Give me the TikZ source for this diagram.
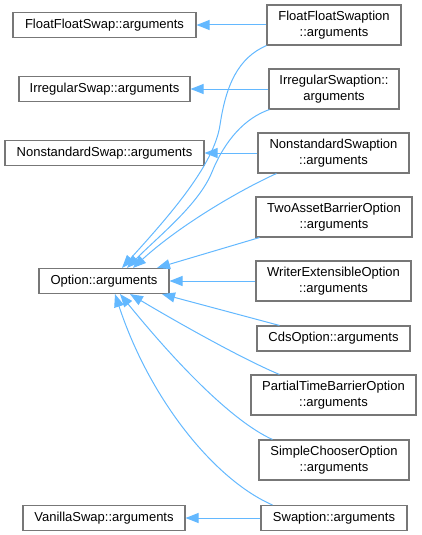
\documentclass[tikz,border=0pt]{standalone}
\usepackage{fontspec}
\setmainfont{Liberation Sans}
\usetikzlibrary{arrows.meta,calc}
\definecolor{edgeblue}{HTML}{63B8FF}
\definecolor{boxgray}{HTML}{777777}
\begin{document}
\begin{tikzpicture}[x=1pt,y=-1pt,
 cls/.style={draw=boxgray, line width=1.1pt, fill=white, inner sep=0pt, align=center,
   font=\fontsize{13}{16}\selectfont, minimum height=25pt},
 cls2/.style={cls, minimum height=40pt},
 inh/.style={draw=edgeblue, line width=1pt, -{Triangle[length=13pt,width=10pt]}}]
\useasboundingbox (0,0) rectangle (421,535);

% base classes (left)
\node[cls, minimum width=183pt] (ffs) at (104.5,25) {FloatFloatSwap::arguments};
\node[cls, minimum width=171pt] (irs) at (104.5,89) {IrregularSwap::arguments};
\node[cls, minimum width=199pt] (nss) at (104.5,153) {NonstandardSwap::arguments};
\node[cls, minimum width=130pt] (opt) at (104,281) {Option::arguments};
\node[cls, minimum width=162pt] (vs) at (104,518) {VanillaSwap::arguments};

% derived classes (right)
\node[cls2, minimum width=134pt] (ffsw) at (334,25) {FloatFloatSwaption\\::arguments};
\node[cls2, minimum width=130pt] (irsw) at (334,89) {IrregularSwaption::\\arguments};
\node[cls2, minimum width=151pt] (nssw) at (333.5,153) {NonstandardSwaption\\::arguments};
\node[cls2, minimum width=156pt] (tabo) at (334,217) {TwoAssetBarrierOption\\::arguments};
\node[cls2, minimum width=155pt] (weo) at (333.5,281) {WriterExtensibleOption\\::arguments};
\node[cls, minimum width=153pt] (cds) at (333.5,338.5) {CdsOption::arguments};
\node[cls2, minimum width=165pt] (ptbo) at (333.5,395) {PartialTimeBarrierOption\\::arguments};
\node[cls2, minimum width=150pt] (sco) at (334,460) {SimpleChooserOption\\::arguments};
\node[cls, minimum width=146pt] (sw) at (334,518) {Swaption::arguments};

% inheritance edges
\draw[inh] (ffsw.west) -- (ffs.east);
\draw[inh] (irsw.west) -- (irs.east);
\draw[inh] (nssw.west) -- (nss.east);
\draw[inh] (sw.west) -- (vs.east);

\draw[inh] (ffsw.south west) .. controls (238,58) and (226,85) .. (220,125)
  .. controls (214,165) and (170,215) .. ([xshift=18pt]opt.north);
\draw[inh] ([xshift=1pt]irsw.south west) .. controls (245,118) and (225,140) .. (212,172)
  .. controls (199,204) and (160,235) .. ([xshift=23pt]opt.north);
\draw[inh] ([xshift=19pt]nssw.south west) .. controls (240,190) and (180,225) .. ([xshift=29pt]opt.north);
\draw[inh] ([xshift=4pt]tabo.south west) -- ([xshift=53pt]opt.north);
\draw[inh] (weo.west) -- (opt.east);
\draw[inh] ([xshift=23pt]cds.north west) -- ([xshift=58pt]opt.south);
\draw[inh] ([xshift=29pt]ptbo.north west) .. controls (240,358) and (170,318) .. ([xshift=26pt]opt.south);
\draw[inh] ([xshift=14pt]sco.north west) .. controls (240,425) and (190,380) .. ([xshift=16pt]opt.south);
\draw[inh] ([xshift=12pt]sw.north west) .. controls (215,480) and (150,400) .. ([xshift=11pt]opt.south);
\end{tikzpicture}
\end{document}
